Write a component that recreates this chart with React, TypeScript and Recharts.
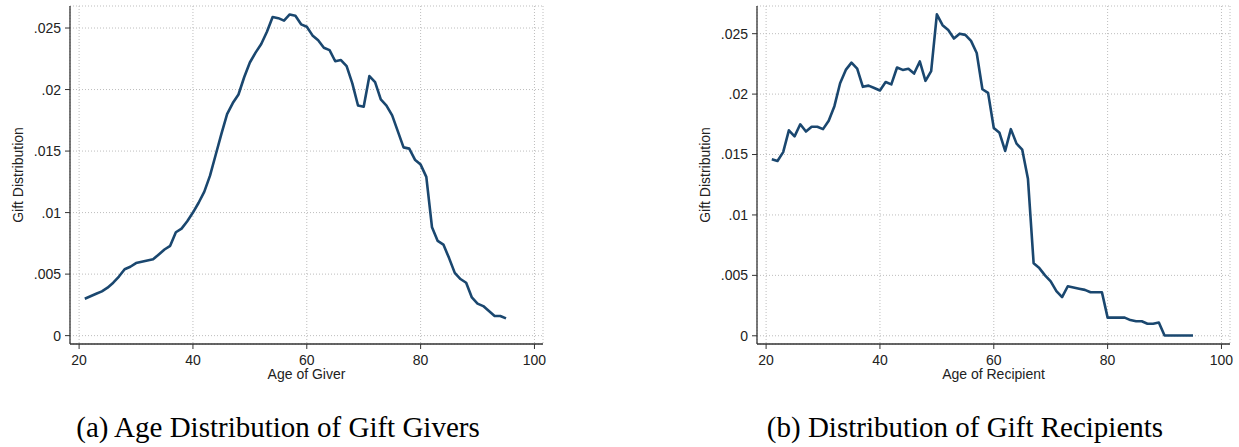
import React from "react";
import { LineChart, Line, XAxis, YAxis, CartesianGrid } from "recharts";

// ages 21..95
const ages = [
    21, 22, 23, 24, 25, 26, 27, 28, 29, 30, 31, 32, 33, 34, 35, 36, 37, 38, 39, 40,
    41, 42, 43, 44, 45, 46, 47, 48, 49, 50, 51, 52, 53, 54, 55, 56, 57, 58, 59, 60,
    61, 62, 63, 64, 65, 66, 67, 68, 69, 70, 71, 72, 73, 74, 75, 76, 77, 78, 79, 80,
    81, 82, 83, 84, 85, 86, 87, 88, 89, 90, 91, 92, 93, 94, 95,
];

const giverShare = [
    0.0030, 0.0032, 0.0034, 0.0036, 0.0039, 0.0043, 0.0048, 0.0054, 0.0056, 0.0059,
    0.0060, 0.0061, 0.0062, 0.0066, 0.0070, 0.0073, 0.0084, 0.0087, 0.0093, 0.0100,
    0.0108, 0.0117, 0.0130, 0.0147, 0.0164, 0.0180, 0.0189, 0.0196, 0.0210, 0.0222,
    0.0230, 0.0237, 0.0247, 0.0259, 0.0258, 0.0256, 0.0261, 0.0260, 0.0253, 0.0251,
    0.0244, 0.0240, 0.0234, 0.0232, 0.0223, 0.0224, 0.0219, 0.0205, 0.0187, 0.0186,
    0.0211, 0.0206, 0.0192, 0.0187, 0.0179, 0.0166, 0.0153, 0.0152, 0.0143, 0.0139,
    0.0129, 0.0088, 0.0077, 0.0074, 0.0063, 0.0051, 0.0046, 0.0043, 0.0031, 0.0026,
    0.0024, 0.0020, 0.0016, 0.0016, 0.0014,
];

const recipientShare = [
    0.0146, 0.01446, 0.0152, 0.0170, 0.0165, 0.0175, 0.0169, 0.0173, 0.0173, 0.0171,
    0.0178, 0.0190, 0.0209, 0.0220, 0.0226, 0.0221, 0.0206, 0.0207, 0.0205, 0.0203,
    0.0210, 0.0208, 0.0222, 0.0220, 0.0221, 0.0217, 0.0227, 0.0211, 0.0219, 0.0266,
    0.0257, 0.0253, 0.0246, 0.0250, 0.0249, 0.0244, 0.0234, 0.0204, 0.0201, 0.0172,
    0.0168, 0.0153, 0.0171, 0.0159, 0.0154, 0.0130, 0.0060, 0.0056, 0.0050, 0.0045,
    0.0037, 0.0032, 0.0041, 0.0040, 0.0039, 0.0038, 0.0036, 0.0036, 0.0036, 0.0015,
    0.0015, 0.0015, 0.0015, 0.0013, 0.0012, 0.0012, 0.0010, 0.0010, 0.0011, 0.00002,
    0.00002, 0.00002, 0.00002, 0.00002, 0.00002,
];

const xTicks = [20, 40, 60, 80, 100];
const yTicks = [0, 0.005, 0.01, 0.015, 0.02, 0.025];

const giverData = ages.map((age, i) => ({ age, share: giverShare[i] }));
const recipientData = ages.map((age, i) => ({ age, share: recipientShare[i] }));

const AXIS = "#333333";
const NAVY = "#1a476f";
const FONT = "'Liberation Sans', Arial, sans-serif";

const fmtY = (v: number) => (v === 0 ? "0" : String(v).replace(/^0/, ""));

interface PanelProps {
    data: { age: number; share: number }[];
    xTitle: string;
    yTop: number;
}

const Panel: React.FC<PanelProps> = ({ data, xTitle, yTop }) => {
    return (
        <LineChart
            width={553}
            height={400}
            data={data}
            margin={{ top: 6, right: 10, bottom: 0, left: 0 }}
            style={{ fontFamily: FONT }}
        >
            <CartesianGrid stroke="#bdbdbd" strokeDasharray="1 2" strokeWidth={1} />
            <XAxis
                dataKey="age"
                type="number"
                domain={[18.4, 101.5]}
                ticks={xTicks}
                height={56}
                tickSize={5}
                tickMargin={6}
                axisLine={{ stroke: AXIS, strokeWidth: 1.3 }}
                tickLine={{ stroke: AXIS, strokeWidth: 1 }}
                tick={{ fontSize: 14, fill: "#222", fontFamily: FONT }}
                label={{
                    value: xTitle,
                    position: "insideBottom",
                    offset: 21,
                    style: { fontSize: 14, fill: "#222", fontFamily: FONT },
                }}
            />
            <YAxis
                type="number"
                domain={[-0.00068, yTop]}
                ticks={yTicks}
                width={70}
                tickSize={5}
                tickMargin={4}
                tickFormatter={fmtY}
                axisLine={{ stroke: AXIS, strokeWidth: 1.3 }}
                tickLine={{ stroke: AXIS, strokeWidth: 1 }}
                tick={{ fontSize: 14, fill: "#222", fontFamily: FONT }}
                label={{
                    value: "Gift Distribution",
                    angle: -90,
                    position: "insideLeft",
                    offset: 18,
                    style: { textAnchor: "middle", fontSize: 14, fill: "#222", fontFamily: FONT },
                }}
            />
            <Line
                type="linear"
                dataKey="share"
                stroke={NAVY}
                strokeWidth={2.6}
                strokeLinejoin="round"
                dot={false}
                isAnimationActive={false}
            />
        </LineChart>
    );
};

const captionStyle: React.CSSProperties = {
    position: "absolute",
    top: 413,
    width: 600,
    textAlign: "center",
    whiteSpace: "nowrap",
    fontFamily: "'Liberation Serif', 'Times New Roman', serif",
    fontSize: 29,
    lineHeight: "29px",
    color: "#000",
};

const App: React.FC = () => {
    return (
        <div style={{ position: "absolute", left: 0, top: 0, width: 1239, height: 447, background: "#fff", overflow: "hidden" }}>
            <div style={{ position: "absolute", left: 0, top: 0 }}>
                <Panel data={giverData} xTitle="Age of Giver" yTop={0.02679} />
            </div>
            <div style={{ position: "absolute", left: 687, top: 0 }}>
                <Panel data={recipientData} xTitle="Age of Recipient" yTop={0.02729} />
            </div>
            <div style={{ ...captionStyle, left: 278 - 300 }}>(a) Age Distribution of Gift Givers</div>
            <div style={{ ...captionStyle, left: 965 - 300 }}>(b) Distribution of Gift Recipients</div>
        </div>
    );
};

export default App;
